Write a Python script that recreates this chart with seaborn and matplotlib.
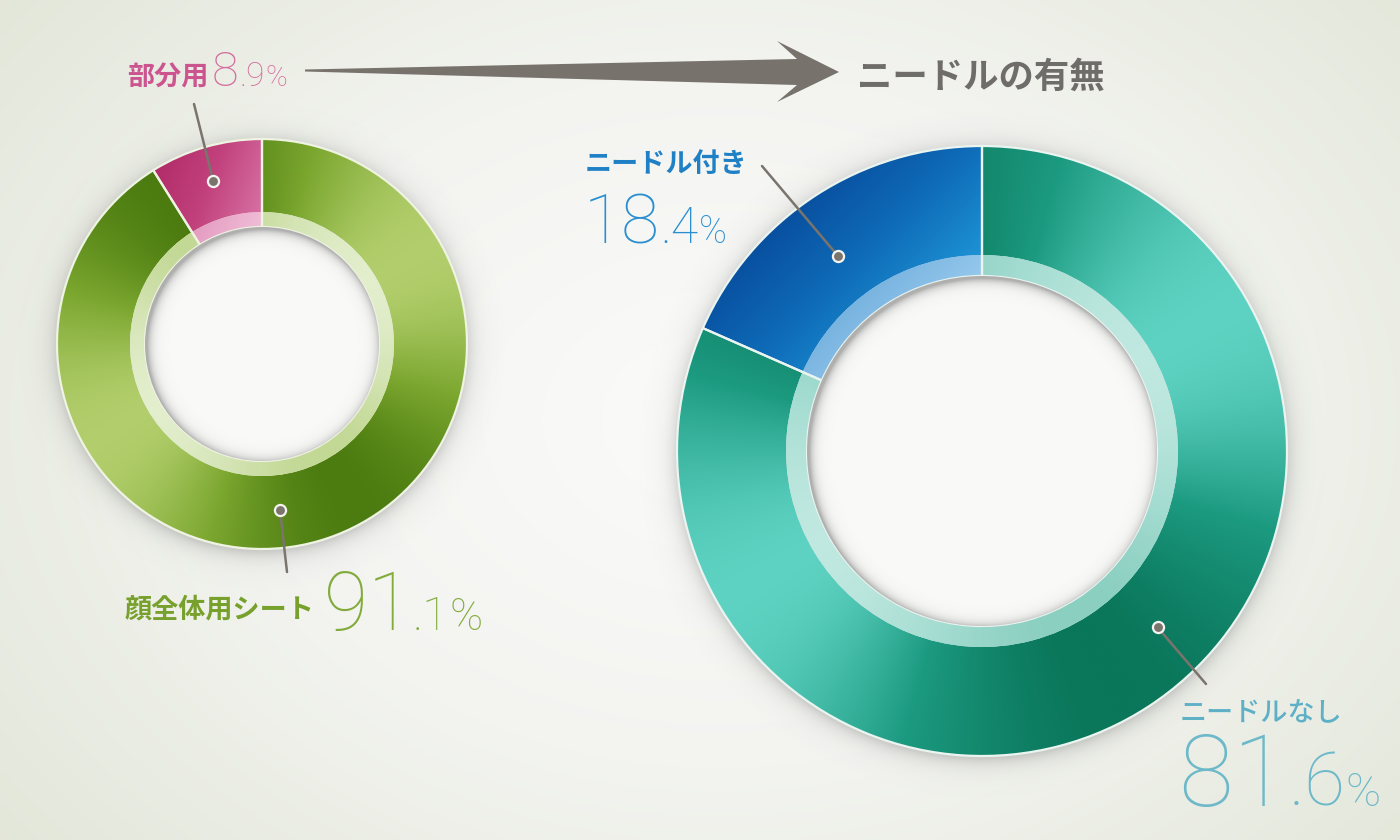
import numpy as np
import matplotlib
matplotlib.use("Agg")
import matplotlib.pyplot as plt
import seaborn as sns
from matplotlib.patches import Circle, Polygon
from matplotlib.colors import LinearSegmentedColormap

# ---------------- data ----------------
left_labels = ["部分用", "顔全体用シート"]
left_values = [8.9, 91.1]
right_labels = ["ニードル付き", "ニードルなし"]
right_values = [18.4, 81.6]
title_text = "ニードルの有無"

# ---------------- style ----------------
sns.set_theme(style="white")
plt.rcParams['font.family'] = ['Noto Sans CJK JP', 'DejaVu Sans']
NUM_FONT = ['Roboto', 'Lato', 'DejaVu Sans']

W, H = 1400, 840
fig = plt.figure(figsize=(14, 8.4), dpi=100)
ax = fig.add_axes([0, 0, 1, 1])
ax.set_axis_off()


def Y(ypx):
    return H - ypx


def cmap(*cols):
    return LinearSegmentedColormap.from_list("c", list(cols))


# background radial gradient
gx, gy = np.meshgrid(np.linspace(0, W, 280), np.linspace(0, H, 168))
dist = np.sqrt(((gx - 720) / 950) ** 2 + ((gy - Y(420)) / 700) ** 2)
bg = cmap("#fbfbfa", "#f3f4f0", "#e2e6d8")
ax.imshow(np.clip(dist, 0, 1), extent=(0, W, 0, H), origin='lower', cmap=bg,
          vmin=0, vmax=1, zorder=0, aspect='auto', interpolation='bilinear')


def shadow_image(c, R, spread, alpha, zorder, inner=False, clip=None, shift=(0, 0)):
    ext = R + spread * 6
    n = 500
    xs = np.linspace(c[0] - ext, c[0] + ext, n)
    ys = np.linspace(c[1] - ext, c[1] + ext, n)
    XX, YY = np.meshgrid(xs, ys)
    d = np.sqrt((XX - c[0] - shift[0]) ** 2 + (YY - c[1] - shift[1]) ** 2)
    rgba = np.zeros((n, n, 4))
    rgba[..., :3] = 0.45
    if inner:
        a = alpha * np.exp(-np.clip(R - d, 0, None) / spread)
    else:
        a = alpha * np.exp(-np.clip(d - R, 0, None) / spread)
    rgba[..., 3] = a
    im = ax.imshow(rgba, extent=(c[0] - ext, c[0] + ext, c[1] - ext, c[1] + ext),
                   origin='lower', zorder=zorder, aspect='auto', interpolation='bilinear')
    if clip is not None:
        im.set_clip_path(clip)
    return im


def fill_gradient(wedge, c, R, r_in, cm, mode, param, z):
    n = 420
    x0, x1, y0, y1 = c[0] - R, c[0] + R, c[1] - R, c[1] + R
    XX, YY = np.meshgrid(np.linspace(x0, x1, n), np.linspace(y0, y1, n))
    if mode == 'angular':
        phi = np.arctan2(YY - c[1], XX - c[0])
        v = 0.5 + 0.5 * np.cos(2 * (phi - np.deg2rad(param)))
    else:
        dv = np.array([np.cos(np.deg2rad(param)), np.sin(np.deg2rad(param))])
        p = (XX - c[0]) * dv[0] + (YY - c[1]) * dv[1]
        rr = np.sqrt((XX - c[0]) ** 2 + (YY - c[1]) ** 2)
        ang = np.degrees(np.arctan2(YY - c[1], XX - c[0])) % 360
        t1, t2 = wedge.theta1 % 360, wedge.theta2 % 360
        if t2 <= t1:
            t2 += 360
        inside = (rr <= R) & (rr >= r_in) & (((ang >= t1) & (ang <= t2)) | ((ang + 360 >= t1) & (ang + 360 <= t2)))
        pmin, pmax = p[inside].min(), p[inside].max()
        v = np.clip((p - pmin) / (pmax - pmin), 0, 1)
    im = ax.imshow(v, extent=(x0, x1, y0, y1), origin='lower', cmap=cm, vmin=0, vmax=1,
                   zorder=z, interpolation='bilinear', aspect='auto')
    im.set_clip_path(wedge)


def donut(values, c, R, ring, hole, outer_cmaps, ring_cmaps, modes, edge):
    shadow_image(c, R, 9, 0.30, 1, shift=(0, -3))
    wedges, _ = ax.pie(values, radius=R, center=c, startangle=90, counterclock=True,
                       colors=[m(0.5) for m in outer_cmaps],
                       wedgeprops=dict(width=R - ring, linewidth=0, zorder=2))
    for w, m, md in zip(wedges, outer_cmaps, modes):
        fill_gradient(w, c, R, ring, m, md[0], md[1], 3)
    rw, _ = ax.pie(values, radius=ring, center=c, startangle=90, counterclock=True,
                   colors=[m(0.5) for m in ring_cmaps],
                   wedgeprops=dict(width=ring - hole, linewidth=0, zorder=4))
    for w, m, md in zip(rw, ring_cmaps, modes):
        fill_gradient(w, c, ring, hole, m, md[0], md[1], 5)
    # separators / rim
    ax.pie(values, radius=R, center=c, startangle=90, counterclock=True,
           wedgeprops=dict(width=R - hole, facecolor='none', edgecolor=edge,
                           linewidth=1.6, zorder=6))
    hc = Circle(c, hole, facecolor='#f9f9f8', edgecolor='none', zorder=7)
    ax.add_patch(hc)
    shadow_image(c, hole, 4.5, 0.55, 7.5, inner=True, clip=hc, shift=(2, -2))
    return wedges


LC = (262, Y(344))
RC = (982, Y(451))

lw = donut(left_values, LC, 205, 132, 117,
           [cmap("#b12c69", "#c2427d", "#d670a3"),
            cmap("#4c7c10", "#7ba72f", "#b2ce6c")],
           [cmap("#e49cc0", "#f0bdd7"),
            cmap("#c2d894", "#d4e4b4", "#e2eecc")],
           [('linear', -20), ('angular', 30)], '#eef3e2')

rw = donut(right_values, RC, 305, 196, 175,
           [cmap("#0850a0", "#0f6cb8", "#1d92d4"),
            cmap("#0a765a", "#1c9a80", "#5ed2c2")],
           [cmap("#78b4e0", "#96c8ec"),
            cmap("#8acfc0", "#a6ddd2", "#bfe8e0")],
           [('linear', -45), ('angular', 30)], '#eaf4f0')

ax.set_xlim(0, W)
ax.set_ylim(0, H)
ax.set_aspect('auto')

# ---------------- leader lines ----------------
LINE_C = '#7a746d'
leaders = [  # wedge, center, frac along wedge, radius of dot, end point (px)
    (lw[0], LC, 0.52, 170, (194, 104)),
    (lw[1], LC, 0.47, 167, (287, 572)),
    (rw[0], RC, 0.55, 242, (762, 166)),
    (rw[1], RC, 0.54, 249, (1206, 684)),
]
for w, c, f, r, end in leaders:
    t1, t2 = w.theta1, w.theta2
    a = np.deg2rad(t1 + f * (t2 - t1))
    px, py = c[0] + r * np.cos(a), c[1] + r * np.sin(a)
    ax.plot([px, end[0]], [py, Y(end[1])], color=LINE_C, lw=1.8, zorder=8,
            solid_capstyle='round')
    ax.plot([px], [py], 'o', ms=8, mfc=LINE_C, mec='#f4f4f0', mew=1.6, zorder=9)

# ---------------- arrow ----------------
arrow = Polygon([(305, Y(69.5)), (797, Y(59)), (777, Y(41)), (839, Y(72)),
                 (777, Y(102)), (797, Y(85)), (305, Y(71.5))],
                closed=True, facecolor='#77726c', edgecolor='none', zorder=8)
ax.add_patch(arrow)

# ---------------- text ----------------
ax.text(857, Y(88), title_text, fontsize=25.5, fontweight='bold', color='#6f6d6a',
        va='baseline', ha='left', zorder=10)

label_specs = [
    (left_labels[0], (127, 85), '#cc5590', 'bold'),
    (left_labels[1], (125, 618), '#77a02c', 'bold'),
    (right_labels[0], (585, 172), '#1f80c6', 'bold'),
    (right_labels[1], (1180, 721), '#5eb0c6', 'medium'),
]
for s, (x, y), col, wt in label_specs:
    ax.text(x, Y(y), s, fontsize=19.5, fontweight=wt, color=col, va='baseline',
            ha='left', zorder=10)

fig.canvas.draw()
renderer = fig.canvas.get_renderer()


def number(value, x, y, sizes, col):
    ip, dp = f"{value:.1f}".split(".")
    parts = [ip, "." + dp, "%"]
    cx = x
    for s, fs in zip(parts, sizes):
        t = ax.text(cx, Y(y), s, fontsize=fs, family=NUM_FONT, fontweight='light',
                    color=col, va='baseline', ha='left', zorder=10)
        bb = t.get_window_extent(renderer)
        cx = ax.transData.inverted().transform((bb.x1, bb.y0))[0] + 0.5


number(left_values[0], 212, 86, (35, 24, 21), '#d36c9e')
number(left_values[1], 324, 630, (58, 34, 32), '#82ab3c')
number(right_values[0], 584, 243, (50, 36, 27), '#2a8ed0')
number(right_values[1], 1178, 806, (72, 54, 34), '#6db8c9')

fig.savefig("out.png", dpi=100)
